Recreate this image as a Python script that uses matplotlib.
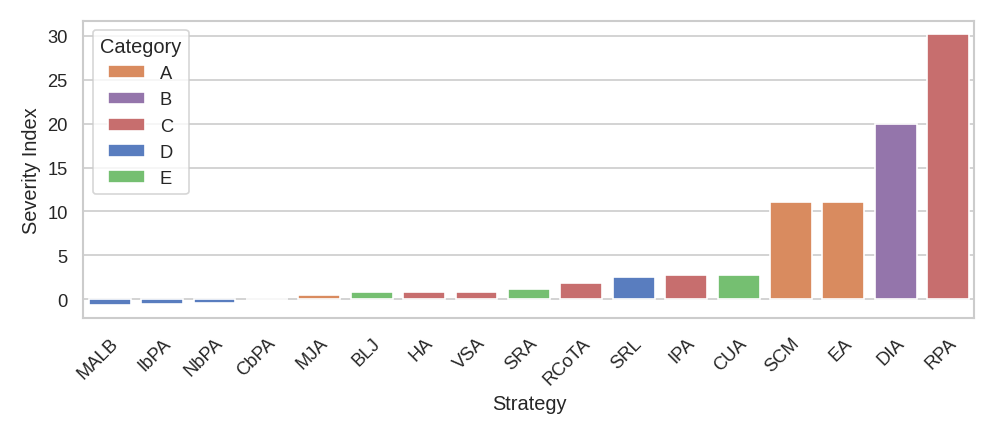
#!/usr/bin/env python3

import pandas as pd
import seaborn as sns
import matplotlib
matplotlib.use("Agg")
import matplotlib.pyplot as plt

strategies = ["MALB", "IbPA", "NbPA", "CbPA", "MJA", "BLJ", "HA", "VSA", "SRA",
              "RCoTA", "SRL", "IPA", "CUA", "SCM", "EA", "DIA", "RPA"]
severity = [-0.65, -0.5, -0.42, -0.03, 0.5, 0.77, 0.8, 0.85, 1.2,
            1.9, 2.5, 2.7, 2.8, 11.1, 11.1, 20.0, 30.2]
categories = ["D", "D", "D", "E", "A", "E", "C", "C", "E",
              "C", "D", "C", "E", "A", "A", "B", "C"]
category_order = ["A", "B", "C", "D", "E"]


def plot():
    df = pd.DataFrame({"Strategy": strategies, "Severity Index": severity,
                       "Category": categories})

    sns.set_theme(style="whitegrid")
    plt.rcParams["font.family"] = ["Liberation Sans", "DejaVu Sans"]

    muted = sns.color_palette("muted")
    palette = {"A": muted[1], "B": muted[4], "C": muted[3], "D": muted[0], "E": muted[2]}

    fig, ax = plt.subplots(figsize=(8.3, 3.633), dpi=120)
    sns.barplot(data=df, x="Strategy", y="Severity Index", hue="Category",
                hue_order=category_order, palette=palette, dodge=False, ax=ax)

    plt.setp(ax.get_xticklabels(), rotation=45, ha="right", rotation_mode="anchor")
    ax.legend(title="Category", loc="upper left")
    fig.tight_layout()
    fig.savefig("out.png")
    plt.close(fig)


if __name__ == "__main__":
    plot()
